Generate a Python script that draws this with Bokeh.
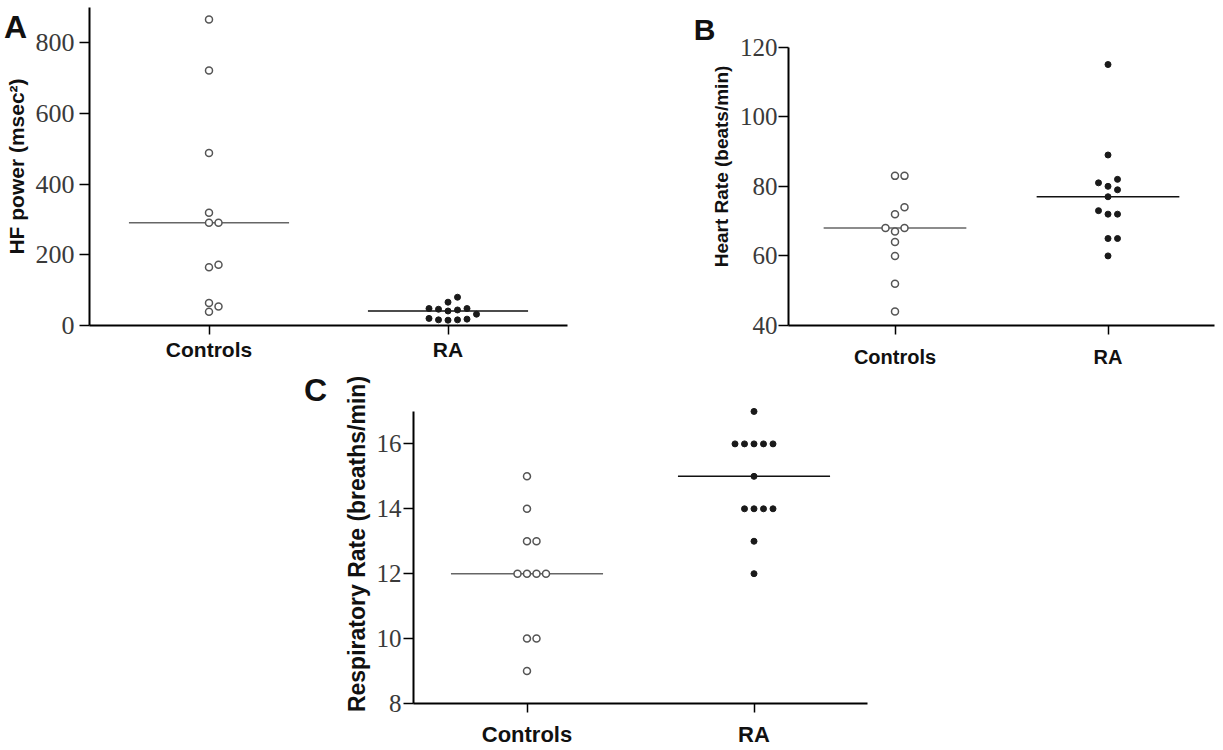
import numpy as np
from bokeh.plotting import figure
from bokeh.layouts import column, row
from bokeh.models import FixedTicker, Range1d, Label
from bokeh.embed import file_html
from bokeh.resources import INLINE

# ---------------- data ----------------
categories = ["Controls", "RA"]
cat_pos = [1, 3]

hf_controls = [866, 722, 488, 319, 291, 291, 172, 165, 64, 54, 39]
hf_ra = [80, 66, 48, 48, 46, 44, 41, 32, 20, 18, 16, 16, 15]

hr_controls = [83, 83, 74, 72, 68, 68, 67, 64, 60, 52, 44]
hr_ra = [115, 89, 82, 81, 80, 79, 77, 73, 72, 72, 65, 65, 60]

rr_controls = [15, 14, 13, 13, 12, 12, 12, 12, 10, 10, 9]
rr_ra = [17, 16, 16, 16, 16, 16, 15, 14, 14, 14, 14, 13, 12]

hf_ticks = [0, 200, 400, 600, 800]
hr_ticks = [40, 60, 80, 100, 120]
rr_ticks = [8, 10, 12, 14, 16]

SANS = "Liberation Sans"
SERIF = "Liberation Serif"


def swarm(values, center, px_x, px_y, step_px=9.5, dist_px=8.5):
    """Deterministic beeswarm dodge computed in pixel space."""
    vals = np.asarray(values, dtype=float)
    order = np.argsort(vals, kind="stable")
    cands = [0]
    for j in range(1, 12):
        cands += [j, -j]
    placed = []
    xs = np.zeros(len(vals))
    for i in order:
        y = vals[i] * px_y
        x = 0.0
        for c in cands:
            x = c * step_px
            if all((x - qx) ** 2 + (y - qy) ** 2 >= dist_px ** 2 for qx, qy in placed):
                break
        placed.append((x, y))
        xs[i] = center + x / px_x
    return xs


def make_panel(fw, fh, left, right, top, bottom, y0, y_axis_top, y_end, yticks,
               ctrl, ra, ylabel, ylabel_size, tick_font, cat_font,
               ystand, xstand, ylab_stand, page_left, page_top):
    W = left + fw + right
    H = top + fh + bottom
    p = figure(width=W, height=H, x_range=Range1d(0, 4), y_range=Range1d(y0, y_end),
               output_backend="svg", toolbar_location=None,
               min_border_left=left, min_border_right=right,
               min_border_top=top, min_border_bottom=bottom)
    p.outline_line_color = None
    p.xgrid.visible = False
    p.ygrid.visible = False
    p.background_fill_color = "white"
    p.border_fill_color = "white"

    p.xaxis.ticker = FixedTicker(ticks=cat_pos)
    p.xaxis.major_label_overrides = {cat_pos[0]: categories[0], cat_pos[1]: categories[1]}
    p.yaxis.ticker = FixedTicker(ticks=yticks)
    p.yaxis.bounds = (y0, y_axis_top)
    for ax in (p.xaxis, p.yaxis):
        ax.axis_line_color = "black"
        ax.axis_line_width = 2
        ax.major_tick_line_color = "black"
        ax.major_tick_line_width = 1.5
        ax.major_tick_in = 0
        ax.minor_tick_line_color = None
    p.xaxis.major_tick_out = 9
    p.yaxis.major_tick_out = 10
    p.xaxis.major_label_text_font = SANS
    p.xaxis.major_label_text_font_style = "bold"
    p.xaxis.major_label_text_font_size = cat_font
    p.xaxis.major_label_text_color = "#111111"
    p.xaxis.major_label_standoff = xstand
    p.yaxis.major_label_text_font = SERIF
    p.yaxis.major_label_text_font_size = tick_font
    p.yaxis.major_label_text_color = "#3a3a3a"
    p.yaxis.major_label_standoff = ystand
    p.yaxis.axis_label = ylabel
    p.yaxis.axis_label_text_font = SANS
    p.yaxis.axis_label_text_font_style = "bold"
    p.yaxis.axis_label_text_font_size = ylabel_size
    p.yaxis.axis_label_text_color = "#111111"
    p.yaxis.axis_label_standoff = ylab_stand

    px_x = fw / 4.0
    px_y = fh / float(y_end - y0)
    cx = swarm(np.asarray(ctrl) - y0, cat_pos[0], px_x, px_y)
    rx = swarm(np.asarray(ra) - y0, cat_pos[1], px_x, px_y)

    mc = float(np.median(ctrl))
    mr = float(np.median(ra))
    hw = 0.67
    p.segment(x0=[cat_pos[0] - hw], x1=[cat_pos[0] + hw], y0=[mc], y1=[mc],
              line_color="#666666", line_width=1.5)
    p.segment(x0=[cat_pos[1] - hw], x1=[cat_pos[1] + hw], y0=[mr], y1=[mr],
              line_color="#111111", line_width=1.5)

    p.scatter(cx, ctrl, marker="circle", size=7, fill_color="white",
              line_color="#555555", line_width=1.5)
    p.scatter(rx, ra, marker="circle", size=6, fill_color="#1a1a1a",
              line_color="#1a1a1a", line_width=1)

    geo = dict(fl=page_left + left, ft=page_top + top, fw=fw, fh=fh, y0=y0, y1=y_end)
    return p, geo


def add_letter(p, geo, page_x, page_y, text, size, side):
    # placed in a side panel so that it is not clipped to the frame
    xd = (page_x - geo["fl"]) / geo["fw"] * 4.0
    yd = geo["y1"] - (page_y - geo["ft"]) / geo["fh"] * (geo["y1"] - geo["y0"])
    p.add_layout(Label(x=xd, y=yd, x_units="data", y_units="data", text=text,
                       text_align="center", text_baseline="middle",
                       text_font=SANS, text_font_style="bold",
                       text_font_size=size, text_color="#111111"), side)


def y_end_for(ticks, fh, gap_px):
    # range end so that the top tick sits gap_px below the frame top
    span = ticks[-1] - ticks[0]
    return ticks[-1] + gap_px * span / (fh - gap_px)


# Row 1 frames share top (7) and bottom (328)
FH1 = 321
# Panel A
pA, gA = make_panel(fw=478, fh=FH1, left=89, right=42, top=7, bottom=42,
                    y0=0, y_axis_top=900, y_end=900, yticks=hf_ticks,
                    ctrl=hf_controls, ra=hf_ra,
                    ylabel="HF power (msec\u00b2)", ylabel_size="21px",
                    tick_font="26px", cat_font="21px", ystand=5, xstand=3,
                    ylab_stand=5, page_left=0, page_top=0)
add_letter(pA, gA, 15, 27, "A", "32px", "right")

# Panel B
yB = y_end_for(hr_ticks, FH1, 40)
pB, gB = make_panel(fw=426, fh=FH1, left=179, right=2, top=7, bottom=42,
                    y0=40, y_axis_top=120, y_end=yB, yticks=hr_ticks,
                    ctrl=hr_controls, ra=hr_ra,
                    ylabel="Heart Rate (beats/min)", ylabel_size="19px",
                    tick_font="25px", cat_font="20px", ystand=1, xstand=11,
                    ylab_stand=5, page_left=609, page_top=0)
add_letter(pB, gB, 704, 29, "B", "30px", "left")

# Panel C
FHC = 332
yC = y_end_for(rr_ticks, FHC, 28 + 33.8)
pC, gC = make_panel(fw=454, fh=FHC, left=413, right=33, top=14, bottom=33,
                    y0=8, y_axis_top=17, y_end=yC, yticks=rr_ticks,
                    ctrl=rr_controls, ra=rr_ra,
                    ylabel="Respiratory Rate (breaths/min)", ylabel_size="23px",
                    tick_font="25px", cat_font="22px", ystand=2, xstand=9,
                    ylab_stand=4, page_left=0, page_top=370)
add_letter(pC, gC, 315, 390, "C", "32px", "left")

layout = column(row(pA, pB), pC)

open("out.html", "w").write(file_html(layout, INLINE))
